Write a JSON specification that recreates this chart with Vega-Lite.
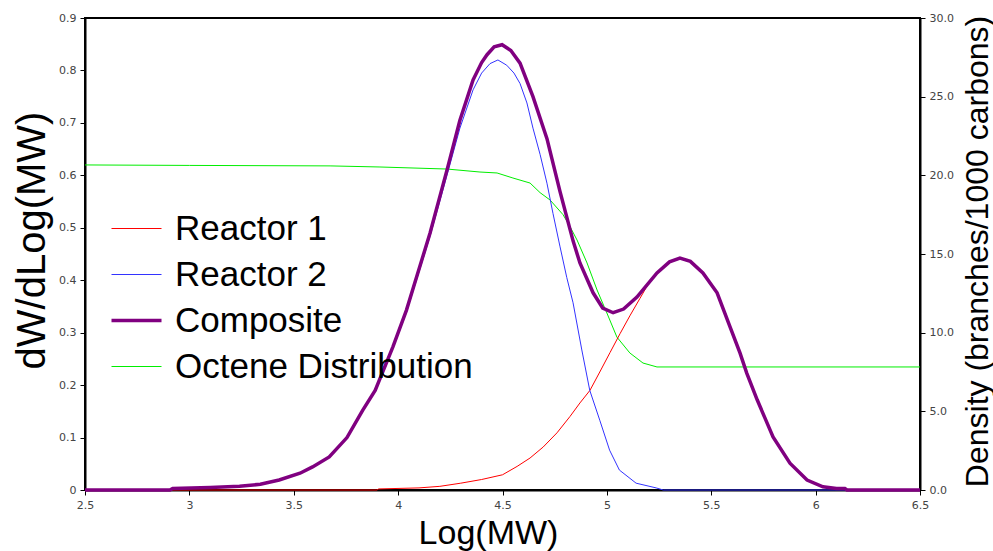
{
  "$schema": "https://vega.github.io/schema/vega-lite/v6.json",
  "width": 835,
  "height": 472,
  "autosize": {"type": "none"},
  "padding": {"left": 85, "top": 18, "right": 73, "bottom": 61},
  "background": "white",
  "config": {
    "view": {"stroke": "black", "strokeWidth": 2},
    "axis": {
      "grid": false,
      "domainColor": "black",
      "domainWidth": 2,
      "tickColor": "black",
      "tickSize": 5,
      "tickWidth": 1,
      "labelFont": "DejaVu Sans",
      "labelFontSize": 11,
      "labelColor": "#444444",
      "labelFlush": false,
      "labelPadding": 4,
      "titleFont": "Liberation Sans",
      "titleFontWeight": "normal",
      "titleColor": "black"
    }
  },
  "data": {
    "values": [
      {"s": "Reactor 1", "x": 2.5, "y": 0},
      {"s": "Reactor 1", "x": 3.9, "y": 0},
      {"s": "Reactor 1", "x": 3.905, "y": 0.002},
      {"s": "Reactor 1", "x": 4.1, "y": 0.004},
      {"s": "Reactor 1", "x": 4.2, "y": 0.007},
      {"s": "Reactor 1", "x": 4.3, "y": 0.013},
      {"s": "Reactor 1", "x": 4.4, "y": 0.02},
      {"s": "Reactor 1", "x": 4.5, "y": 0.029},
      {"s": "Reactor 1", "x": 4.57, "y": 0.045},
      {"s": "Reactor 1", "x": 4.632, "y": 0.061},
      {"s": "Reactor 1", "x": 4.695, "y": 0.082},
      {"s": "Reactor 1", "x": 4.761, "y": 0.109},
      {"s": "Reactor 1", "x": 4.823, "y": 0.14},
      {"s": "Reactor 1", "x": 4.871, "y": 0.166},
      {"s": "Reactor 1", "x": 4.919, "y": 0.19},
      {"s": "Reactor 1", "x": 4.966, "y": 0.225},
      {"s": "Reactor 1", "x": 5.015, "y": 0.262},
      {"s": "Reactor 1", "x": 5.063, "y": 0.298},
      {"s": "Reactor 1", "x": 5.11, "y": 0.332},
      {"s": "Reactor 1", "x": 5.158, "y": 0.365},
      {"s": "Reactor 1", "x": 5.206, "y": 0.398},
      {"s": "Reactor 1", "x": 5.25, "y": 0.417},
      {"s": "Reactor 1", "x": 5.3, "y": 0.434},
      {"s": "Reactor 1", "x": 5.35, "y": 0.441},
      {"s": "Reactor 1", "x": 5.4, "y": 0.435},
      {"s": "Reactor 1", "x": 5.46, "y": 0.413},
      {"s": "Reactor 1", "x": 5.528, "y": 0.375},
      {"s": "Reactor 1", "x": 5.59, "y": 0.311},
      {"s": "Reactor 1", "x": 5.638, "y": 0.261},
      {"s": "Reactor 1", "x": 5.67, "y": 0.223},
      {"s": "Reactor 1", "x": 5.72, "y": 0.172},
      {"s": "Reactor 1", "x": 5.796, "y": 0.101},
      {"s": "Reactor 1", "x": 5.877, "y": 0.051},
      {"s": "Reactor 1", "x": 5.959, "y": 0.019},
      {"s": "Reactor 1", "x": 6.035, "y": 0.006},
      {"s": "Reactor 1", "x": 6.14, "y": 0.003},
      {"s": "Reactor 1", "x": 6.15, "y": 0},
      {"s": "Reactor 1", "x": 6.5, "y": 0},
      {"s": "Reactor 2", "x": 2.92, "y": 0.003},
      {"s": "Reactor 2", "x": 3.1, "y": 0.005},
      {"s": "Reactor 2", "x": 3.24, "y": 0.007},
      {"s": "Reactor 2", "x": 3.34, "y": 0.011},
      {"s": "Reactor 2", "x": 3.43, "y": 0.019},
      {"s": "Reactor 2", "x": 3.53, "y": 0.032},
      {"s": "Reactor 2", "x": 3.59, "y": 0.044},
      {"s": "Reactor 2", "x": 3.67, "y": 0.063},
      {"s": "Reactor 2", "x": 3.755, "y": 0.1},
      {"s": "Reactor 2", "x": 3.83, "y": 0.151},
      {"s": "Reactor 2", "x": 3.89, "y": 0.189},
      {"s": "Reactor 2", "x": 3.975, "y": 0.27},
      {"s": "Reactor 2", "x": 4.04, "y": 0.339},
      {"s": "Reactor 2", "x": 4.08, "y": 0.39},
      {"s": "Reactor 2", "x": 4.153, "y": 0.484},
      {"s": "Reactor 2", "x": 4.234, "y": 0.6},
      {"s": "Reactor 2", "x": 4.296, "y": 0.69},
      {"s": "Reactor 2", "x": 4.359, "y": 0.763},
      {"s": "Reactor 2", "x": 4.4, "y": 0.795},
      {"s": "Reactor 2", "x": 4.44, "y": 0.813},
      {"s": "Reactor 2", "x": 4.478, "y": 0.82},
      {"s": "Reactor 2", "x": 4.52, "y": 0.81},
      {"s": "Reactor 2", "x": 4.555, "y": 0.795},
      {"s": "Reactor 2", "x": 4.584, "y": 0.775},
      {"s": "Reactor 2", "x": 4.617, "y": 0.738},
      {"s": "Reactor 2", "x": 4.646, "y": 0.69},
      {"s": "Reactor 2", "x": 4.68, "y": 0.64},
      {"s": "Reactor 2", "x": 4.713, "y": 0.585},
      {"s": "Reactor 2", "x": 4.742, "y": 0.527},
      {"s": "Reactor 2", "x": 4.775, "y": 0.465},
      {"s": "Reactor 2", "x": 4.808, "y": 0.405},
      {"s": "Reactor 2", "x": 4.838, "y": 0.357},
      {"s": "Reactor 2", "x": 4.88, "y": 0.267},
      {"s": "Reactor 2", "x": 4.918, "y": 0.19},
      {"s": "Reactor 2", "x": 4.966, "y": 0.133},
      {"s": "Reactor 2", "x": 5.013, "y": 0.076},
      {"s": "Reactor 2", "x": 5.06, "y": 0.038},
      {"s": "Reactor 2", "x": 5.14, "y": 0.013},
      {"s": "Reactor 2", "x": 5.236, "y": 0.004},
      {"s": "Reactor 2", "x": 5.27, "y": 0},
      {"s": "Reactor 2", "x": 6.5, "y": 0},
      {"s": "Composite", "x": 2.5, "y": 0},
      {"s": "Composite", "x": 2.907, "y": 0},
      {"s": "Composite", "x": 2.92, "y": 0.003},
      {"s": "Composite", "x": 3.1, "y": 0.005},
      {"s": "Composite", "x": 3.24, "y": 0.007},
      {"s": "Composite", "x": 3.34, "y": 0.011},
      {"s": "Composite", "x": 3.43, "y": 0.019},
      {"s": "Composite", "x": 3.53, "y": 0.032},
      {"s": "Composite", "x": 3.59, "y": 0.044},
      {"s": "Composite", "x": 3.67, "y": 0.063},
      {"s": "Composite", "x": 3.755, "y": 0.1},
      {"s": "Composite", "x": 3.83, "y": 0.152},
      {"s": "Composite", "x": 3.89, "y": 0.19},
      {"s": "Composite", "x": 3.975, "y": 0.273},
      {"s": "Composite", "x": 4.04, "y": 0.343},
      {"s": "Composite", "x": 4.08, "y": 0.395},
      {"s": "Composite", "x": 4.153, "y": 0.49},
      {"s": "Composite", "x": 4.234, "y": 0.61},
      {"s": "Composite", "x": 4.296, "y": 0.705},
      {"s": "Composite", "x": 4.359, "y": 0.782},
      {"s": "Composite", "x": 4.4, "y": 0.815},
      {"s": "Composite", "x": 4.426, "y": 0.83},
      {"s": "Composite", "x": 4.46, "y": 0.845},
      {"s": "Composite", "x": 4.498, "y": 0.849},
      {"s": "Composite", "x": 4.54, "y": 0.838},
      {"s": "Composite", "x": 4.584, "y": 0.814},
      {"s": "Composite", "x": 4.646, "y": 0.75},
      {"s": "Composite", "x": 4.713, "y": 0.67},
      {"s": "Composite", "x": 4.775, "y": 0.57},
      {"s": "Composite", "x": 4.838, "y": 0.475},
      {"s": "Composite", "x": 4.871, "y": 0.433},
      {"s": "Composite", "x": 4.934, "y": 0.376},
      {"s": "Composite", "x": 4.98, "y": 0.347},
      {"s": "Composite", "x": 5.03, "y": 0.338},
      {"s": "Composite", "x": 5.08, "y": 0.345},
      {"s": "Composite", "x": 5.144, "y": 0.368},
      {"s": "Composite", "x": 5.24, "y": 0.414},
      {"s": "Composite", "x": 5.3, "y": 0.435},
      {"s": "Composite", "x": 5.35, "y": 0.442},
      {"s": "Composite", "x": 5.4, "y": 0.436},
      {"s": "Composite", "x": 5.46, "y": 0.414},
      {"s": "Composite", "x": 5.528, "y": 0.376},
      {"s": "Composite", "x": 5.59, "y": 0.311},
      {"s": "Composite", "x": 5.638, "y": 0.261},
      {"s": "Composite", "x": 5.67, "y": 0.223},
      {"s": "Composite", "x": 5.72, "y": 0.172},
      {"s": "Composite", "x": 5.796, "y": 0.101},
      {"s": "Composite", "x": 5.877, "y": 0.051},
      {"s": "Composite", "x": 5.959, "y": 0.019},
      {"s": "Composite", "x": 6.035, "y": 0.006},
      {"s": "Composite", "x": 6.1, "y": 0.003},
      {"s": "Composite", "x": 6.14, "y": 0.003},
      {"s": "Composite", "x": 6.15, "y": 0},
      {"s": "Composite", "x": 6.5, "y": 0},
      {"s": "Octene Distribution", "x": 2.5, "y": 20.66},
      {"s": "Octene Distribution", "x": 3.0, "y": 20.63},
      {"s": "Octene Distribution", "x": 3.674, "y": 20.6},
      {"s": "Octene Distribution", "x": 3.913, "y": 20.53},
      {"s": "Octene Distribution", "x": 4.234, "y": 20.4},
      {"s": "Octene Distribution", "x": 4.392, "y": 20.21},
      {"s": "Octene Distribution", "x": 4.474, "y": 20.15},
      {"s": "Octene Distribution", "x": 4.55, "y": 19.83},
      {"s": "Octene Distribution", "x": 4.632, "y": 19.51},
      {"s": "Octene Distribution", "x": 4.68, "y": 18.9},
      {"s": "Octene Distribution", "x": 4.728, "y": 18.43},
      {"s": "Octene Distribution", "x": 4.79, "y": 17.5},
      {"s": "Octene Distribution", "x": 4.823, "y": 16.75},
      {"s": "Octene Distribution", "x": 4.857, "y": 15.89},
      {"s": "Octene Distribution", "x": 4.905, "y": 14.43},
      {"s": "Octene Distribution", "x": 4.953, "y": 12.71},
      {"s": "Octene Distribution", "x": 5.0, "y": 11.25},
      {"s": "Octene Distribution", "x": 5.048, "y": 9.72},
      {"s": "Octene Distribution", "x": 5.11, "y": 8.71},
      {"s": "Octene Distribution", "x": 5.173, "y": 8.07},
      {"s": "Octene Distribution", "x": 5.24, "y": 7.82},
      {"s": "Octene Distribution", "x": 6.5, "y": 7.82}
    ]
  },
  "encoding": {
    "x": {
      "field": "x",
      "type": "quantitative",
      "scale": {"domain": [2.5, 6.5], "nice": false, "zero": false},
      "axis": {
        "values": [2.5, 3, 3.5, 4, 4.5, 5, 5.5, 6, 6.5],
        "format": "~g",
        "title": "Log(MW)",
        "titleFontSize": 34,
        "titleX": 403,
        "titleY": 43,
        "titleAlign": "center",
        "titleBaseline": "middle"
      }
    },
    "color": {
      "field": "s",
      "type": "nominal",
      "scale": {
        "domain": ["Reactor 1", "Reactor 2", "Composite", "Octene Distribution"],
        "range": ["#ff0000", "#3333ff", "#800080", "#00ee00"]
      },
      "legend": {
        "orient": "none",
        "legendX": 34,
        "legendY": 193,
        "title": null,
        "symbolType": "stroke",
        "symbolSize": 2500,
        "labelFont": "Liberation Sans",
        "labelFontSize": 35,
        "labelColor": "black",
        "labelOffset": 21,
        "labelLimit": 600,
        "rowPadding": 10,
        "padding": 0,
        "encode": {
          "symbols": {
            "update": {
              "stroke": {"signal": "scale('color', datum.value)"},
              "strokeWidth": {"signal": "datum.value === 'Composite' ? 3.5 : 1"}
            }
          }
        }
      }
    },
    "strokeWidth": {
      "condition": {"test": "datum.s === 'Composite'", "value": 3.5},
      "value": 1
    }
  },
  "layer": [
    {
      "transform": [{"filter": "datum.s === 'Octene Distribution'"}],
      "mark": {"type": "line", "interpolate": "linear"},
      "encoding": {
        "y": {
          "field": "y",
          "type": "quantitative",
          "scale": {"domain": [0, 30], "nice": false},
          "axis": {
            "orient": "right",
            "values": [0, 5, 10, 15, 20, 25, 30],
            "format": ".1f",
            "title": "Density (branches/1000 carbons)",
            "titleFontSize": 32,
            "titleAngle": -90,
            "titleX": 57,
            "titleY": 233,
            "titleAlign": "center",
            "titleBaseline": "middle"
          }
        }
      }
    },
    {
      "transform": [{"filter": "datum.s !== 'Octene Distribution'"}],
      "mark": {"type": "line", "interpolate": "linear"},
      "encoding": {
        "y": {
          "field": "y",
          "type": "quantitative",
          "scale": {"domain": [0, 0.9], "nice": false},
          "axis": {
            "orient": "left",
            "values": [0, 0.1, 0.2, 0.3, 0.4, 0.5, 0.6, 0.7, 0.8, 0.9],
            "format": "~g",
            "title": "dW/dLog(MW)",
            "titleFontSize": 40,
            "titleAngle": -90,
            "titleX": -53,
            "titleY": 222,
            "titleAlign": "center",
            "titleBaseline": "middle"
          }
        }
      }
    }
  ],
  "resolve": {"scale": {"y": "independent"}}
}
